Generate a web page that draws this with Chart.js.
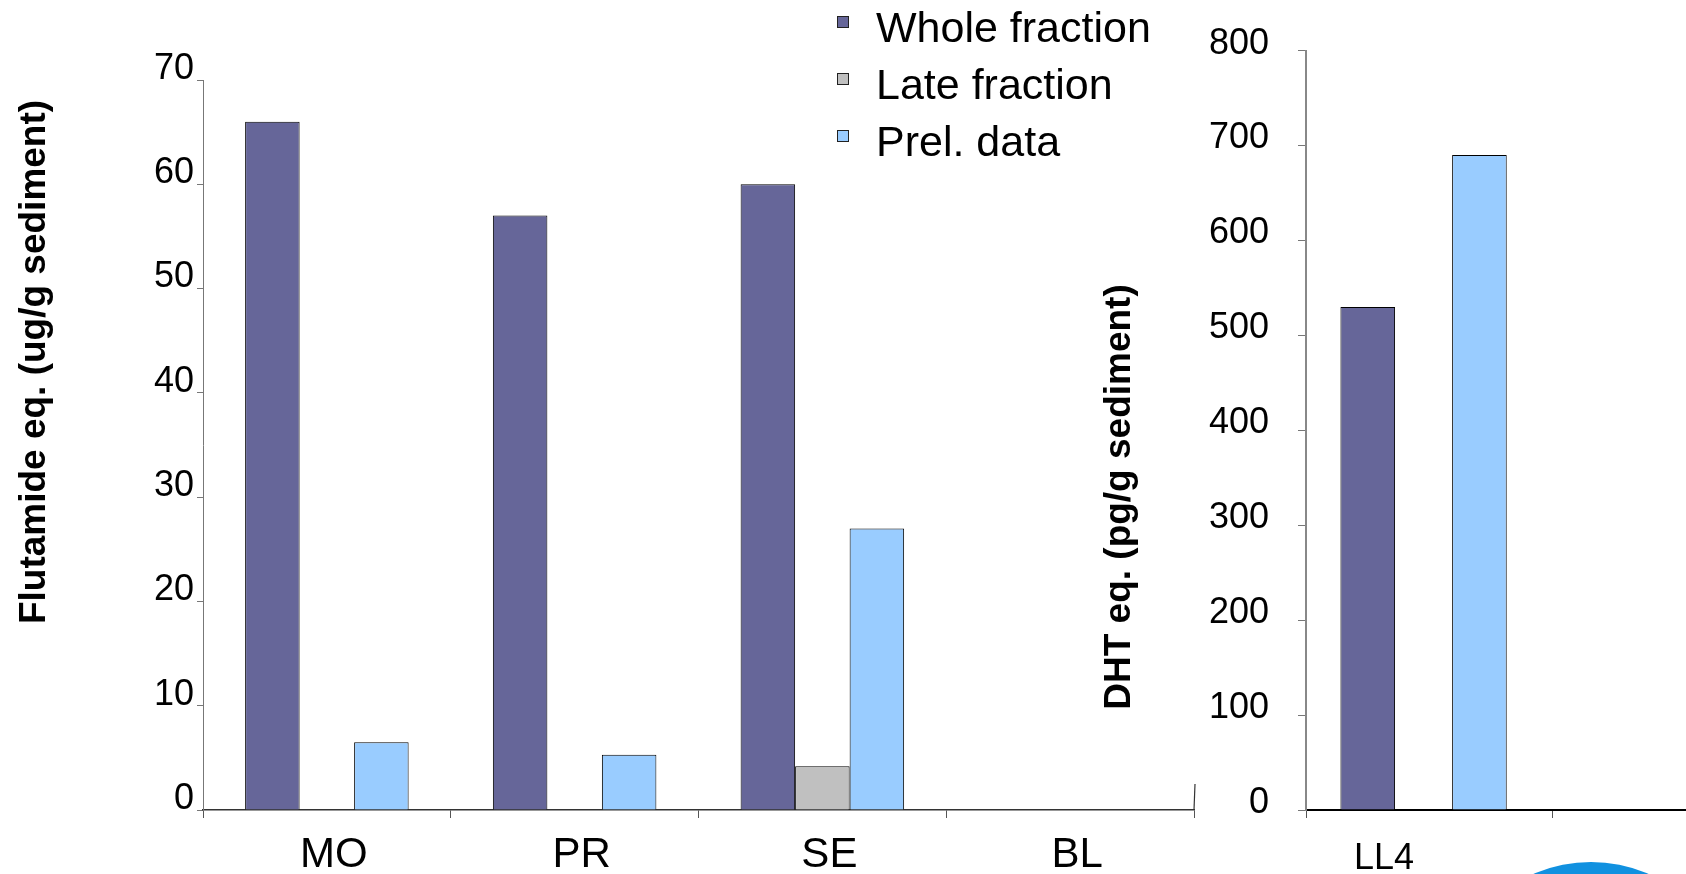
<!DOCTYPE html>
<html>
<head>
<meta charset="utf-8">
<script src="https://cdn.jsdelivr.net/npm/chart.js@4.4.0/dist/chart.umd.min.js"></script>
<style>
    html, body { margin: 0; padding: 0; background: #fff; width: 1686px; height: 874px; overflow: hidden; position: relative; }
    #flutChart { position: absolute; left: 0; top: 0; }
    #dhtChart { position: absolute; left: 1060px; top: 0; }
    #logo { position: absolute; left: 1446px; top: 862px; width: 290px; height: 290px; border-radius: 50%; background: #1191e0; }
</style>
</head>
<body>
<canvas id="flutChart" width="1230" height="874"></canvas>
<canvas id="dhtChart" width="760" height="874"></canvas>
<div id="logo"></div>
<script>
// anti-androgenic activity per site (ug/g sediment)
var wSites = ['MO', 'PR', 'SE', 'BL']
var wWhole = [66, 57, 60, null]
var wLate = [null, null, 4.2, null]
var wPrel = [6.5, 5.3, 27, null]

// androgenic activity (pg/g sediment)
var wDhtSites = ['LL4', '']
var wDhtWhole = [530, null]
var wDhtLate = [null, null]
var wDhtPrel = [690, null]

var wSeriesNames = ['Whole fraction', 'Late fraction', 'Prel. data']
var wColors = ['#666699', '#C0C0C0', '#99CCFF']

Chart.defaults.font.family = '"Liberation Sans", Arial, sans-serif'
Chart.defaults.color = '#000'

function makeSets(whole, late, prel) {
    return [whole, late, prel].map(function (d, i) {
        return {
            label: wSeriesNames[i],
            data: d,
            backgroundColor: wColors[i],
            borderColor: '#000',
            borderWidth: 1,
            barPercentage: 1
        }
    })
}

// rotated axis title, placed freely
var sideTitle = {
    id: 'sideTitle',
    afterDraw: function (chart, args, opts) {
        var ctx = chart.ctx
        ctx.save()
        ctx.translate(opts.x, opts.y)
        ctx.rotate(-Math.PI / 2)
        ctx.font = 'bold 37px "Liberation Sans", Arial, sans-serif'
        ctx.fillStyle = '#000'
        ctx.textAlign = 'center'
        ctx.textBaseline = 'middle'
        ctx.fillText(opts.text, 0, 0)
        ctx.restore()
    }
}

// small square legend + the little end mark on the axis
var boxLegend = {
    id: 'boxLegend',
    afterDraw: function (chart, args, opts) {
        var ctx = chart.ctx
        var area = chart.chartArea
        ctx.save()
        ctx.font = '43px "Liberation Sans", Arial, sans-serif'
        ctx.textBaseline = 'alphabetic'
        chart.data.datasets.forEach(function (ds, i) {
            var yb = opts.y + i * opts.rowGap
            ctx.fillStyle = ds.backgroundColor
            ctx.fillRect(opts.x, yb - 26, 12, 12)
            ctx.strokeStyle = '#222'
            ctx.lineWidth = 1
            ctx.strokeRect(opts.x + 0.5, yb - 25.5, 11, 11)
            ctx.fillStyle = '#000'
            ctx.fillText(ds.label, opts.x + 39, yb)
        })
        ctx.strokeStyle = '#333'
        ctx.lineWidth = 1.2
        ctx.beginPath()
        ctx.moveTo(area.right, area.bottom)
        ctx.lineTo(area.right + 1, area.bottom - 26)
        ctx.stroke()
        ctx.restore()
    }
}

var ctxL = document.getElementById('flutChart').getContext('2d')
var flutChart = new Chart(ctxL, {
    type: 'bar',
    data: {
        labels: wSites,
        datasets: makeSets(wWhole, wLate, wPrel)
    },
    options: {
        responsive: false,
        animation: false,
        datasets: { bar: { categoryPercentage: 0.66 } },
        layout: { padding: { top: 80, right: 36, bottom: 0, left: 0 } },
        plugins: {
            legend: { display: false },
            tooltip: { enabled: false },
            sideTitle: { text: 'Flutamide eq. (ug/g sediment)', x: 35, y: 362 },
            boxLegend: { x: 837, y: 42, rowGap: 57 }
        },
        scales: {
            x: {
                afterFit: function (s) { s.height = 64 },
                grid: { drawOnChartArea: false, tickLength: 8, color: '#555' },
                border: { color: '#333', width: 1.5 },
                ticks: { font: { size: 42 }, padding: 12, labelOffset: 7, autoSkip: false, maxRotation: 0 }
            },
            y: {
                min: 0,
                max: 70,
                afterFit: function (s) { s.width = 203 },
                grid: { drawOnChartArea: false, tickLength: 6, color: '#777' },
                border: { color: '#777', width: 1 },
                ticks: { stepSize: 10, font: { size: 36 }, padding: 3, labelOffset: -11 }
            }
        }
    },
    plugins: [sideTitle, boxLegend]
})

// LL4 group sits a bit left of its category centre
var dhtSets = makeSets(wDhtWhole, wDhtLate, wDhtPrel)
dhtSets[0].categoryPercentage = 0.747
dhtSets[0].barPercentage = 0.892
dhtSets[2].categoryPercentage = 0.615
dhtSets[2].barPercentage = 1.083

var ctxR = document.getElementById('dhtChart').getContext('2d')
var dhtChart = new Chart(ctxR, {
    type: 'bar',
    data: {
        labels: wDhtSites,
        datasets: dhtSets
    },
    options: {
        responsive: false,
        animation: false,
        datasets: { bar: { categoryPercentage: 0.677 } },
        layout: { padding: { top: 47, right: 22, bottom: 0, left: 0 } },
        plugins: {
            legend: { display: false },
            tooltip: { enabled: false },
            sideTitle: { text: 'DHT eq. (pg/g sediment)', x: 60, y: 497 }
        },
        scales: {
            x: {
                afterFit: function (s) { s.height = 64 },
                grid: { drawOnChartArea: false, tickLength: 8, color: '#555' },
                border: { color: '#000', width: 2 },
                ticks: { font: { size: 36 }, padding: 19, labelOffset: -45, autoSkip: false, maxRotation: 0 }
            },
            y: {
                min: 0,
                max: 800,
                afterFit: function (s) { s.width = 246 },
                grid: { drawOnChartArea: false, tickLength: 8, color: '#777' },
                border: { color: '#888', width: 2 },
                ticks: { stepSize: 100, font: { size: 36 }, padding: 29, labelOffset: -7 }
            }
        }
    },
    plugins: [sideTitle]
})
</script>
</body>
</html>
